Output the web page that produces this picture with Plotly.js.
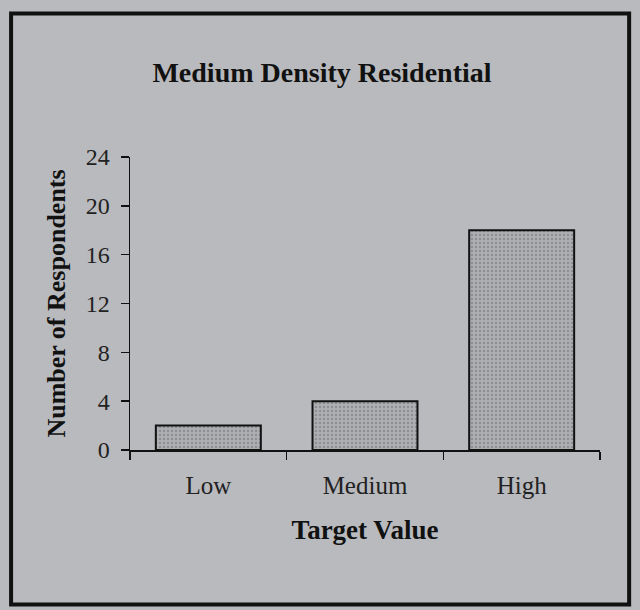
<!DOCTYPE html>
<html>
<head>
<meta charset="utf-8">
<script src="https://cdn.plot.ly/plotly-3.0.1.min.js"></script>
<style>
  html, body { margin: 0; padding: 0; background: #b9babe; }
  #chart { width: 640px; height: 610px; }
</style>
</head>
<body>
<div id="chart"></div>
<script>
const categories = ["Low", "Medium", "High"];
const respondents = [2, 4, 18];
const yTicks = [0, 4, 8, 12, 16, 20, 24];

const serif = "Liberation Serif, Times New Roman, serif";

const trace = {
  type: "bar",
  x: categories,
  y: respondents,
  width: 0.67,
  marker: {
    color: "#a6a7ab",
    line: { color: "#111111", width: 2 },
    pattern: { shape: ".", fgcolor: "#8e8f93", bgcolor: "#aeafb3", size: 4, solidity: 0.3 }
  },
  hoverinfo: "skip",
  showlegend: false
};

const layout = {
  width: 640,
  height: 610,
  margin: { l: 130, r: 40, t: 157, b: 160 },
  paper_bgcolor: "#b9babe",
  plot_bgcolor: "rgba(0,0,0,0)",
  title: {
    text: "<b>Medium Density Residential</b>",
    font: { family: serif, size: 28, color: "#111111" },
    x: 322 / 640, xanchor: "center", xref: "container",
    y: 1 - 72 / 610, yanchor: "middle", yref: "container"
  },
  xaxis: {
    type: "category",
    tickson: "boundaries",
    ticks: "outside",
    ticklen: 8,
    tickwidth: 1.5,
    tickcolor: "#111111",
    showline: true,
    linecolor: "#111111",
    linewidth: 1.5,
    showgrid: false,
    zeroline: false,
    tickfont: { family: serif, size: 25, color: "#222222" },
    ticklabelstandoff: 12,
    title: {
      text: "<b>Target Value</b>",
      font: { family: serif, size: 27, color: "#111111" },
      standoff: 22
    },
    fixedrange: true
  },
  yaxis: {
    range: [0, 24],
    tickvals: yTicks,
    ticktext: yTicks.map(String),
    ticks: "outside",
    ticklen: 8,
    tickwidth: 1.5,
    tickcolor: "#111111",
    showline: true,
    linecolor: "#111111",
    linewidth: 1.5,
    showgrid: false,
    zeroline: false,
    tickfont: { family: serif, size: 24, color: "#222222" },
    ticklabelstandoff: 6,
    title: {
      text: "<b>Number of Respondents</b>",
      font: { family: serif, size: 26, color: "#111111" },
      standoff: 12
    },
    fixedrange: true
  },
  shapes: [
    {
      type: "rect", xref: "paper", yref: "paper",
      x0: -0.253, x1: 1.062, y0: -0.527, y1: 1.49,
      line: { color: "#111111", width: 4 },
      fillcolor: "rgba(0,0,0,0)",
      layer: "below"
    }
  ]
};

Plotly.newPlot("chart", [trace], layout, { displayModeBar: false, staticPlot: true });
</script>
</body>
</html>
